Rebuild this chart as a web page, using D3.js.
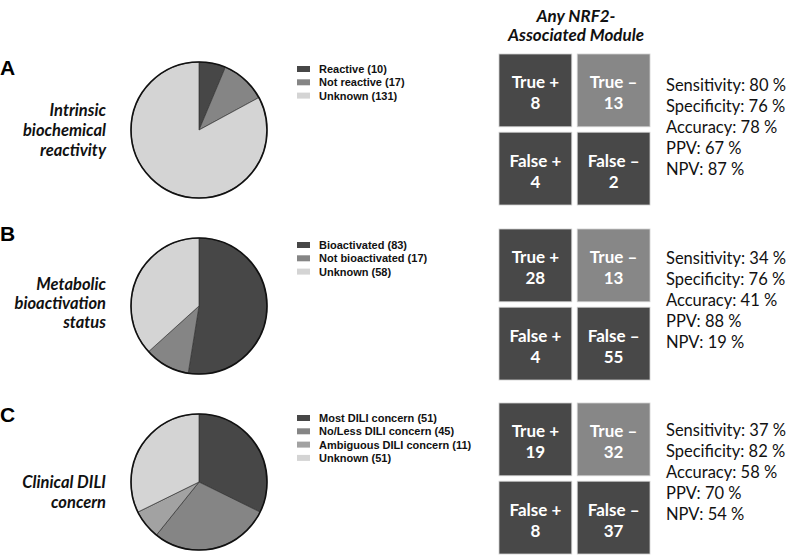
<!DOCTYPE html>
<html><head><meta charset="utf-8">
<script src="https://cdn.jsdelivr.net/npm/d3@7"></script>
<style>body{margin:0;background:#fff}svg{display:block}</style>
</head><body>
<script>
// ---- data ----
const panelLetters = ["A", "B", "C"];
const panelTitles = [["Intrinsic", "biochemical", "reactivity"], ["Metabolic", "bioactivation", "status"], ["Clinical DILI", "concern"]];
const catsA = ["Reactive", "Not reactive", "Unknown"];
const valsA = [10, 17, 131];
const catsB = ["Bioactivated", "Not bioactivated", "Unknown"];
const valsB = [83, 17, 58];
const catsC = ["Most DILI concern", "No/Less DILI concern", "Ambiguous DILI concern", "Unknown"];
const valsC = [51, 45, 11, 51];
const matrixLabels = ["True +", "True \u2013", "False +", "False \u2013"];
const matrixA = [8, 13, 4, 2];
const matrixB = [28, 13, 4, 55];
const matrixC = [19, 32, 8, 37];
const statNames = ["Sensitivity", "Specificity", "Accuracy", "PPV", "NPV"];
const statsA = [80, 76, 78, 67, 87];
const statsB = [34, 76, 41, 88, 19];
const statsC = [37, 82, 58, 70, 54];
const matrixTitle = ["Any NRF2-", "Associated Module"];

const panels = [
  {cats: catsA, vals: valsA, colors: ["#474747", "#858585", "#d4d4d4"], m: matrixA, s: statsA},
  {cats: catsB, vals: valsB, colors: ["#474747", "#858585", "#d4d4d4"], m: matrixB, s: statsB},
  {cats: catsC, vals: valsC, colors: ["#474747", "#858585", "#a2a2a2", "#d4d4d4"], m: matrixC, s: statsC}
];

const W = 787, H = 556;
const svg = d3.select("body").append("svg").attr("width", W).attr("height", H);

const pieCY = [130, 306, 482];
const letterY = [75, 241, 422];
const titleY = [[116, 136, 156], [290, 309, 328], [488, 508]];
const legendY = [69, 245, 418];
const matTop = [54, 229, 403];
const statTop = [91, 264, 436];

// matrix title
svg.append("g").selectAll("text").data(matrixTitle).join("text")
  .attr("x", 576).attr("y", (d, i) => 22 + i * 19)
  .attr("text-anchor", "middle")
  .style("font-family", "Lato, 'Open Sans', sans-serif")
  .style("font-weight", "bold").style("font-style", "italic")
  .style("font-size", "17px").attr("fill", "#111").text(d => d);

const pie = d3.pie().sort(null).value(d => d);
const arc = d3.arc().innerRadius(0).outerRadius(68);

const colX = d3.scaleBand().domain([0, 1]).range([499, 650]).paddingInner(0.07);

panels.forEach((p, i) => {
  const g = svg.append("g");
  // letter
  g.append("text").attr("x", 0).attr("y", letterY[i])
    .style("font-family", "'Liberation Sans', Arial, sans-serif")
    .style("font-weight", "bold").style("font-size", "21px").attr("fill", "#000")
    .text(panelLetters[i]);
  // title
  g.selectAll("text.t").data(panelTitles[i]).join("text").attr("class", "t")
    .attr("x", 106).attr("y", (d, j) => titleY[i][j])
    .attr("text-anchor", "end")
    .style("font-family", "Lato, 'Open Sans', sans-serif")
    .style("font-weight", "bold").style("font-style", "italic")
    .style("font-size", "16.5px").attr("fill", "#111").text(d => d);
  // pie
  const color = d3.scaleOrdinal().domain(p.cats).range(p.colors);
  const pg = g.append("g").attr("transform", `translate(199,${pieCY[i]})`);
  const arcs = pie(p.vals);
  pg.selectAll("path").data(arcs).join("path")
    .attr("d", arc).attr("fill", (d, j) => color(p.cats[j]))
    .attr("stroke", "#333").attr("stroke-width", 0.7);
  pg.append("circle").attr("r", 68).attr("fill", "none").attr("stroke", "#111").attr("stroke-width", 1.6);
  // legend
  const lg = g.append("g").attr("transform", `translate(297,${legendY[i]})`);
  const items = lg.selectAll("g").data(p.cats).join("g")
    .attr("transform", (d, j) => `translate(0,${j * 13.3})`);
  items.append("rect").attr("x", 0).attr("y", -3).attr("width", 13).attr("height", 6)
    .attr("fill", d => color(d));
  items.append("text").attr("x", 22).attr("y", 4)
    .style("font-family", "'Liberation Sans', Arial, sans-serif")
    .style("font-weight", "bold").style("font-size", "11px").attr("fill", "#111")
    .text((d, j) => `${d} (${p.vals[j]})`);
  // matrix
  const rowY = d3.scaleBand().domain([0, 1]).range([matTop[i], matTop[i] + 151]).paddingInner(0.07);
  const cells = g.append("g").selectAll("g").data(p.m).join("g")
    .attr("transform", (d, j) => `translate(${colX(j % 2)},${rowY(Math.floor(j / 2))})`);
  cells.append("rect").attr("width", colX.bandwidth()).attr("height", rowY.bandwidth())
    .attr("fill", (d, j) => j === 1 ? "#878787" : "#484848")
    .attr("stroke", "#cfcfcf").attr("stroke-width", 0.8);
  cells.append("text").attr("x", colX.bandwidth() / 2).attr("y", rowY.bandwidth() / 2 - 2)
    .attr("text-anchor", "middle")
    .style("font-family", "Lato, 'Open Sans', sans-serif")
    .style("font-weight", "bold").style("font-size", "17px").attr("fill", "#fff")
    .text((d, j) => matrixLabels[j]);
  cells.append("text").attr("x", colX.bandwidth() / 2).attr("y", rowY.bandwidth() / 2 + 19)
    .attr("text-anchor", "middle")
    .style("font-family", "Lato, 'Open Sans', sans-serif")
    .style("font-weight", "bold").style("font-size", "17px").attr("fill", "#fff")
    .text(d => d);
  // stats
  g.append("g").selectAll("text").data(p.s).join("text")
    .attr("x", 666).attr("y", (d, j) => statTop[i] + j * 21)
    .style("font-family", "Lato, 'Open Sans', sans-serif")
    .style("font-size", "16.5px").attr("fill", "#111")
    .text((d, j) => `${statNames[j]}: ${d} %`);
});
</script>
</body></html>
